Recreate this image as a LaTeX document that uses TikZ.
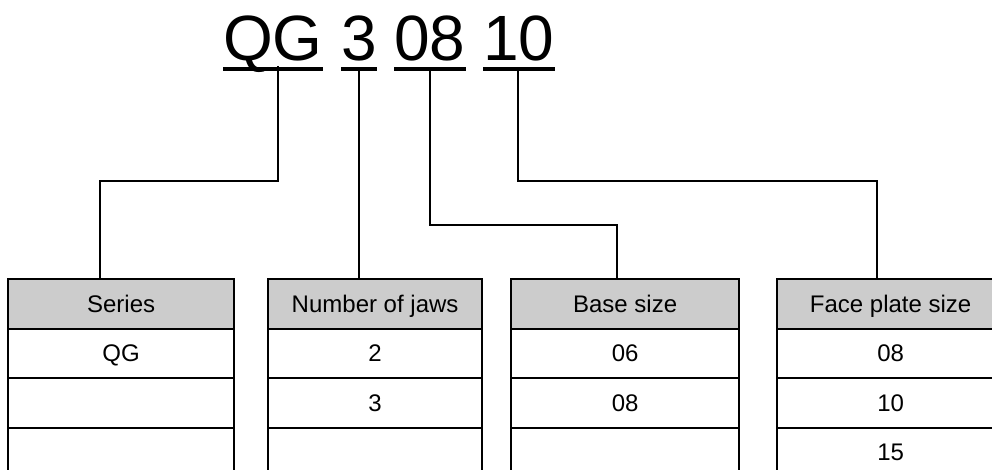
\documentclass[tikz,border=0pt]{standalone}
\usepackage{fontspec}
\setmainfont{Liberation Sans}
\definecolor{hdr}{HTML}{CCCCCC}
\tikzset{
  title/.style={inner sep=0pt, anchor=base west, font=\fontsize{64}{64}\selectfont},
  uline/.style={line width=4.5pt},
  conn/.style={line width=1.5pt, line join=miter},
  cellbox/.style={draw, line width=2.2pt, rectangle, inner sep=0pt, anchor=north west,
    minimum height=49.5pt, text height=17pt, text depth=0pt, font=\fontsize{24}{24}\selectfont},
  hcell/.style={cellbox, fill=hdr},
}
\begin{document}
\begin{tikzpicture}[x=1pt,y=-1pt]
\useasboundingbox (0,0) rectangle (992,470);
\clip (0,0) rectangle (992,470);
% title
\node[title] (wqg) at (223,61) {QG};
\node[title] (w3) at (341,61) {3};
\node[title] (w08) at (394,61) {08};
\node[title] (w10) at (483,61) {10};
\foreach \w in {wqg,w3,w08,w10}{
  \draw[uline] ([yshift=-8pt]\w.base west) -- ([yshift=-8pt]\w.base east);
}
% table 1
\node[hcell, minimum width=226pt] (t1h) at (7,278) {Series};
\node[cellbox, minimum width=226pt] (t1a) at (7,327.5) {QG};
\node[cellbox, minimum width=226pt] (t1b) at (7,377) {};
\node[cellbox, minimum width=226pt] (t1c) at (7,426.5) {};
% table 2
\node[hcell, minimum width=214pt] (t2h) at (267,278) {Number of jaws};
\node[cellbox, minimum width=214pt] (t2a) at (267,327.5) {2};
\node[cellbox, minimum width=214pt] (t2b) at (267,377) {3};
\node[cellbox, minimum width=214pt] (t2c) at (267,426.5) {};
% table 3
\node[hcell, minimum width=228pt] (t3h) at (510,278) {Base size};
\node[cellbox, minimum width=228pt] (t3a) at (510,327.5) {06};
\node[cellbox, minimum width=228pt] (t3b) at (510,377) {08};
\node[cellbox, minimum width=228pt] (t3c) at (510,426.5) {};
% table 4
\node[hcell, minimum width=227pt] (t4h) at (776,278) {Face plate size};
\node[cellbox, minimum width=227pt] (t4a) at (776,327.5) {08};
\node[cellbox, minimum width=227pt] (t4b) at (776,377) {10};
\node[cellbox, minimum width=227pt] (t4c) at (776,426.5) {15};
% connector ends
\coordinate (s1) at (278,66);
\coordinate (s2) at (359,69);
\coordinate (s3) at (430,69);
\coordinate (s4) at (518,69);
\coordinate (e1) at (100,278);
\coordinate (e2) at (359,278);
\coordinate (e3) at (617,278);
\coordinate (e4) at (877,278);
\draw[conn] (s1) -- (s1 |- 0,181) -| (e1);
\draw[conn] (s2) -- (e2);
\draw[conn] (s3) -- (s3 |- 0,225) -| (e3);
\draw[conn] (s4) -- (s4 |- 0,181) -| (e4);
\end{tikzpicture}
\end{document}
